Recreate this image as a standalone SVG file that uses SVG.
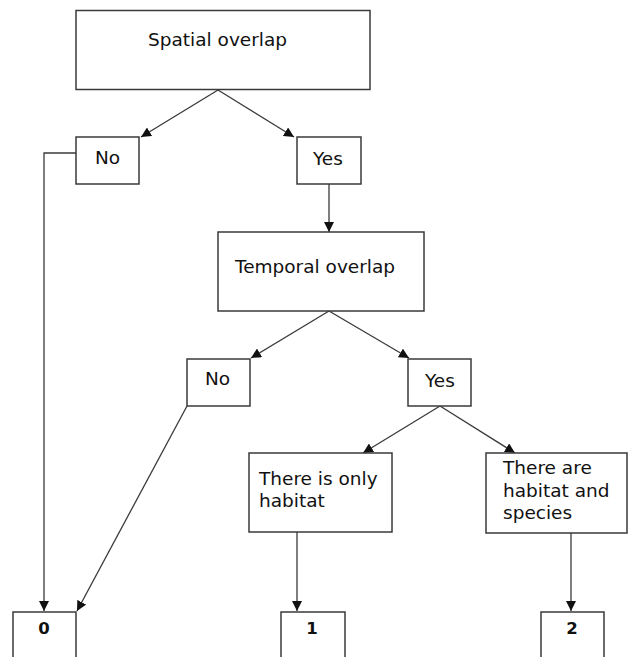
<svg xmlns="http://www.w3.org/2000/svg" width="629" height="657" viewBox="0 0 629 657">
  <style>
    .box { fill: #ffffff; stroke: #3a3a3a; stroke-width: 1.5; }
    .lbl { font-family: "DejaVu Sans", sans-serif; font-size: 18.5px; fill: #111; }
    .num { font-family: "DejaVu Sans", sans-serif; font-size: 16.5px; font-weight: bold; fill: #111; text-anchor: middle; }
    .edge { fill: none; stroke: #3a3a3a; stroke-width: 1.3; marker-end: url(#arrow); }
  </style>
  <defs>
    <marker id="arrow" viewBox="0 0 10 10" refX="10" refY="5" markerWidth="10" markerHeight="10" markerUnits="userSpaceOnUse" orient="auto">
      <path d="M0,0 L10,5 L0,10 Z" fill="#111"/>
    </marker>
  </defs>
  <rect width="629" height="657" fill="#ffffff"/>

  <g id="connectors">
    <line class="edge" x1="218" y1="90" x2="141" y2="137"/>
    <line class="edge" x1="218" y1="90" x2="294" y2="137"/>
    <polyline class="edge" points="76,153 44,153 44,611"/>
    <line class="edge" x1="329" y1="184" x2="329" y2="232"/>
    <line class="edge" x1="329" y1="311" x2="251" y2="358"/>
    <line class="edge" x1="329" y1="311" x2="409" y2="358"/>
    <line class="edge" x1="187" y1="406" x2="77" y2="611"/>
    <line class="edge" x1="440" y1="406" x2="363" y2="453"/>
    <line class="edge" x1="440" y1="406" x2="515" y2="453"/>
    <line class="edge" x1="297" y1="532" x2="297" y2="611"/>
    <line class="edge" x1="571" y1="533" x2="571" y2="611"/>
  </g>

  <g id="spatial-overlap">
    <rect class="box" x="76" y="10.5" width="294" height="79"/>
    <text class="lbl" x="148" y="46">Spatial overlap</text>
  </g>
  <g id="spatial-no">
    <rect class="box" x="76" y="137" width="63" height="47"/>
    <text class="lbl" x="95" y="164">No</text>
  </g>
  <g id="spatial-yes">
    <rect class="box" x="297" y="137" width="64" height="47"/>
    <text class="lbl" x="313" y="165">Yes</text>
  </g>
  <g id="temporal-overlap">
    <rect class="box" x="218" y="232" width="206" height="79"/>
    <text class="lbl" x="235" y="273">Temporal overlap</text>
  </g>
  <g id="temporal-no">
    <rect class="box" x="187" y="359" width="63" height="47"/>
    <text class="lbl" x="205" y="385">No</text>
  </g>
  <g id="temporal-yes">
    <rect class="box" x="408" y="359" width="63" height="47"/>
    <text class="lbl" x="425" y="387">Yes</text>
  </g>
  <g id="only-habitat">
    <rect class="box" x="249" y="453" width="143" height="79"/>
    <text class="lbl" x="259" y="485">There is only</text>
    <text class="lbl" x="259" y="507">habitat</text>
  </g>
  <g id="habitat-and-species">
    <rect class="box" x="486" y="453" width="141" height="80"/>
    <text class="lbl" x="503" y="474">There are</text>
    <text class="lbl" x="503" y="497">habitat and</text>
    <text class="lbl" x="503" y="519">species</text>
  </g>
  <g id="result-0">
    <rect class="box" x="13" y="612" width="63" height="50"/>
    <text class="num" x="44" y="634">0</text>
  </g>
  <g id="result-1">
    <rect class="box" x="281" y="612" width="64" height="50"/>
    <text class="num" x="312" y="634">1</text>
  </g>
  <g id="result-2">
    <rect class="box" x="541" y="612" width="63" height="50"/>
    <text class="num" x="572" y="634">2</text>
  </g>
</svg>
